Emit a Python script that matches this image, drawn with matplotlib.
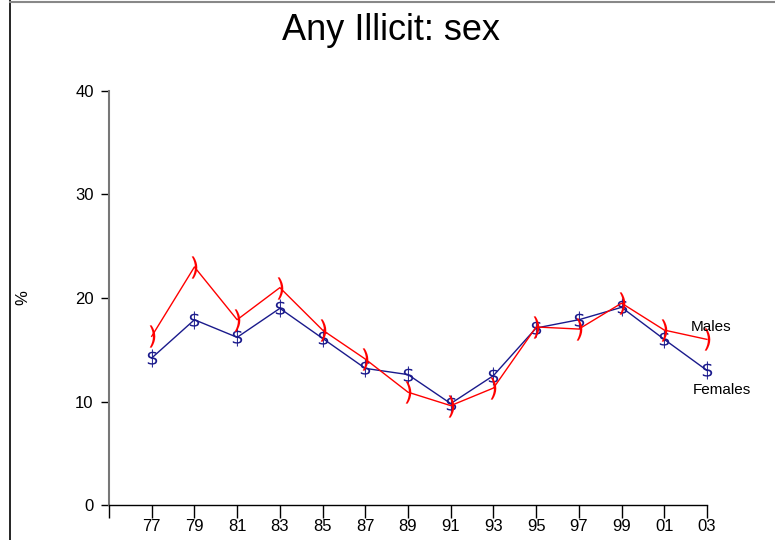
import matplotlib
matplotlib.use('Agg')
import matplotlib.pyplot as plt
from matplotlib.lines import Line2D

# Any Illicit drug use by sex (%)
years = ['77', '79', '81', '83', '85', '87', '89', '91', '93', '95', '97', '99', '01', '03']
males = [16.3, 23.0, 17.9, 21.0, 16.9, 14.1, 10.9, 9.6, 11.3, 17.2, 17.0, 19.5, 16.9, 16.0]
females = [14.2, 17.9, 16.2, 19.0, 16.1, 13.2, 12.6, 9.8, 12.5, 17.1, 17.9, 19.1, 16.0, 13.0]
yticks = [0, 10, 20, 30, 40]

plt.rcParams['font.family'] = ['Liberation Sans', 'DejaVu Sans']

fig = plt.figure(figsize=(7.75, 5.4), dpi=100)
ax = fig.add_axes([109 / 775, 1 - 505 / 540, 598 / 775, 414 / 540])

x = list(range(1, len(years) + 1))
ax.plot(x, females, color='#1a1a8c', lw=1, marker=r'$\$$', markersize=13,
        markeredgewidth=0, clip_on=False)
ax.plot(x, males, color='red', lw=1, marker=r'$)$', markersize=16,
        markeredgewidth=0, clip_on=False)

ax.text(x[-1] + 0.1, males[-1] + 1.2, 'Males', fontsize=11, ha='center', va='center')
ax.text(x[-1] + 0.35, females[-1] - 1.9, 'Females', fontsize=11, ha='center', va='center')

ax.set_xlim(0, len(years))
ax.set_ylim(0, 40)
ax.set_xticks(range(0, len(years) + 1))
ax.set_xticklabels([''] + years, fontsize=12)
ax.set_yticks(yticks)
ax.set_yticklabels([str(v) for v in yticks], fontsize=12)
ax.tick_params(axis='x', length=9, width=1, pad=1)
ax.tick_params(axis='y', length=6, width=1, pad=5, colors='black')
for s in ['top', 'right']:
    ax.spines[s].set_visible(False)
ax.spines['left'].set_color('#777777')
ax.spines['left'].set_linewidth(1.5)
ax.spines['bottom'].set_linewidth(1)
ax.set_ylabel('%', fontsize=12)
ax.yaxis.set_label_coords(-0.132, 0.5)

fig.text(391 / 775, 1 - 30 / 540, 'Any Illicit: sex', fontsize=26, ha='center', va='center')

# frame edges of the original screenshot
fig.add_artist(Line2D([10 / 775, 10 / 775], [0, 1], color='black', lw=1.2))
fig.add_artist(Line2D([10 / 775, 1], [1 - 1.5 / 540, 1 - 1.5 / 540], color='#888888', lw=1.5))

fig.savefig('out.png', dpi=100)
